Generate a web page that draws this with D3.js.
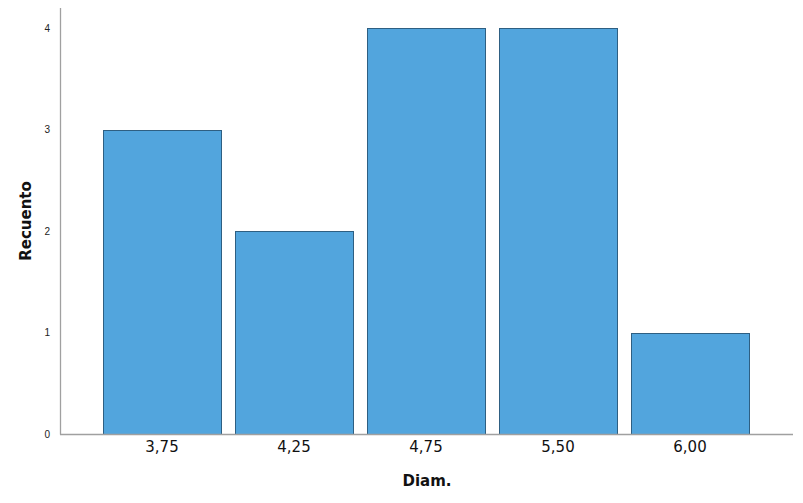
<!DOCTYPE html>
<html><head><meta charset="utf-8">
<script src="https://cdn.jsdelivr.net/npm/d3@7/dist/d3.min.js"></script>
<style>body{margin:0;background:#fff}</style>
</head><body>
<svg id="c" width="803" height="503"></svg>
<script>
const categories = ["3,75","4,25","4,75","5,50","6,00"];
const counts = [3,2,4,4,1];
const yTicks = [0,1,2,3,4];

const svg = d3.select("#c");
const x = d3.scaleBand().domain(categories).range([96,756]).paddingInner(0.106).paddingOuter(0.053);
const y = d3.scaleLinear().domain([0,4.2]).range([434,8]);

svg.selectAll("rect.bar").data(counts).enter().append("rect")
  .attr("class","bar")
  .attr("x",(d,i)=>Math.round(x(categories[i]))+0.5)
  .attr("y",d=>Math.round(y(d))+0.5)
  .attr("width",Math.round(x.bandwidth()))
  .attr("height",d=>y(0)-Math.round(y(d)))
  .attr("fill","#52a5dd").attr("stroke","#2e5f82").attr("stroke-width",1);

svg.append("line").attr("x1",60.5).attr("x2",60.5).attr("y1",8).attr("y2",434.5).attr("stroke","#a0a0a0").attr("stroke-width",1.3);
svg.append("line").attr("x1",60).attr("x2",793).attr("y1",434.5).attr("y2",434.5).attr("stroke","#a0a0a0").attr("stroke-width",1.3);

const yAxis = d3.axisLeft(y).tickValues(yTicks).tickSize(0).tickPadding(6).tickFormat(d3.format("d"));
const gy = svg.append("g").attr("transform","translate(56,0)").call(yAxis);
gy.select(".domain").remove();
gy.selectAll("text").attr("font-family","Liberation Sans, Arial, sans-serif").attr("font-size",10).attr("fill","#222");

const xAxis = d3.axisBottom(x).tickSize(0).tickPadding(7);
const gx = svg.append("g").attr("transform","translate(0,434)").call(xAxis);
gx.select(".domain").remove();
gx.selectAll("text").attr("font-family","DejaVu Sans, sans-serif").attr("font-size",15).attr("fill","#111");

svg.append("text").attr("x",427).attr("y",486).attr("text-anchor","middle")
  .attr("font-family","DejaVu Sans, sans-serif").attr("font-weight","bold").attr("font-size",15).attr("fill","#111").text("Diam.");
svg.append("text").attr("transform","translate(31,221) rotate(-90)").attr("text-anchor","middle")
  .attr("font-family","DejaVu Sans, sans-serif").attr("font-weight","bold").attr("font-size",15).attr("fill","#111").text("Recuento");
</script>
</body></html>
